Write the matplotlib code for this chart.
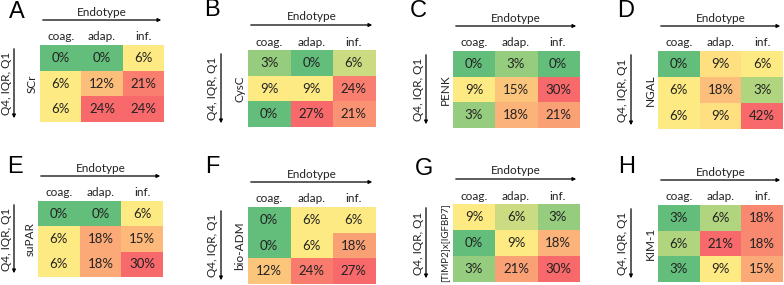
import numpy as np
import matplotlib
matplotlib.use("Agg")
import matplotlib.pyplot as plt
from matplotlib.colors import LinearSegmentedColormap, TwoSlopeNorm

plt.rcParams['font.family'] = ['Lato', 'DejaVu Sans']

letters = ["A", "B", "C", "D", "E", "F", "G", "H"]
markers = ["SCr", "CysC", "PENK", "NGAL", "suPAR", "bio-ADM", "[TIMP2]x[IGFBP7]", "KIM-1"]
endotypes = ["coag.", "adap.", "inf."]

# rows: Q4, IQR, Q1 ; cols: coag., adap., inf.  (percent)
scr = [[0, 0, 6], [6, 12, 21], [6, 24, 24]]
cysc = [[3, 0, 6], [9, 9, 24], [0, 27, 21]]
penk = [[0, 3, 0], [9, 15, 30], [3, 18, 21]]
ngal = [[0, 9, 6], [6, 18, 3], [6, 9, 42]]
supar = [[0, 0, 6], [6, 18, 15], [6, 18, 30]]
bioadm = [[0, 6, 6], [0, 6, 18], [12, 24, 27]]
timp = [[9, 6, 3], [0, 9, 18], [3, 21, 30]]
kim1 = [[3, 6, 18], [6, 21, 18], [3, 9, 15]]
tables = [scr, cysc, penk, ngal, supar, bioadm, timp, kim1]

# heatmap boxes in pixels: left, top, width, height
boxes = [(40, 45, 124, 77), (248, 50, 127, 77), (453, 51, 126, 77), (658, 51, 125, 78),
         (38, 201, 125, 76), (248, 207, 127, 77), (453, 204, 126, 78), (658, 205, 125, 77)]
letter_pos = [(17, 12), (212, 10), (418, 11), (626, 11),
              (15, 167), (212, 167), (424, 169), (627, 167)]

FW, FH = 784, 285
fig = plt.figure(figsize=(FW / 100, FH / 100), dpi=100)

cmap = LinearSegmentedColormap.from_list("xl", ["#63BE7B", "#FFEB84", "#F8696B"])


def fx(x):
    return x / FW


def fy(y):
    return 1 - y / FH


for letter, name, data, (x0, y0, w, h), (lx, ly) in zip(letters, markers, tables, boxes, letter_pos):
    vals = np.array(data, dtype=float)
    norm = TwoSlopeNorm(vcenter=np.median(vals), vmin=vals.min(), vmax=vals.max())
    ax = fig.add_axes([fx(x0), fy(y0 + h), w / FW, h / FH])
    ax.imshow(vals, cmap=cmap, norm=norm, aspect="auto", interpolation="nearest")
    for i in range(3):
        for j in range(3):
            ax.text(j, i, f"{int(vals[i, j])}%", ha="center", va="center",
                    fontsize=9.5, color="#222222")
    ax.set_xticks([])
    ax.set_yticks([])
    for s in ax.spines.values():
        s.set_visible(False)

    # column labels
    for j, lab in enumerate(endotypes):
        fig.text(fx(x0 + w * (j + 0.5) / 3), fy(y0 - 8), lab, ha="center", va="center",
                 fontsize=8.5, color="#222222")

    # panel letter
    fig.text(fx(lx), fy(ly), letter, ha="center", va="center",
             fontsize=17, family="Liberation Sans")

    # Endotype arrow
    fig.text(fx(x0 + w / 2), fy(y0 - 33), "Endotype", ha="center", va="center",
             fontsize=8.5, color="#222222")
    fig.add_artist(matplotlib.patches.FancyArrowPatch(
        (fx(x0), fy(y0 - 25)), (fx(x0 + w), fy(y0 - 25)), transform=fig.transFigure,
        arrowstyle="-|>", mutation_scale=5, lw=0.9, color="black"))

    # vertical arrow
    ax_x = max(x0 - 27, 14)
    fig.add_artist(matplotlib.patches.FancyArrowPatch(
        (fx(ax_x), fy(y0 + 1)), (fx(ax_x), fy(y0 + h - 1)), transform=fig.transFigure,
        arrowstyle="-|>", mutation_scale=5, lw=0.9, color="black"))
    fig.text(fx(max(x0 - 35, 7)), fy(y0 + h / 2), "Q4, IQR, Q1", ha="center", va="center",
             rotation=90, fontsize=8.5, color="#222222")
    fs = 7 if len(name) > 10 else 8.5
    fig.text(fx(x0 - 8), fy(y0 + h / 2), name, ha="center", va="center",
             rotation=90, fontsize=fs, color="#222222")

fig.savefig("out.png", dpi=100)
